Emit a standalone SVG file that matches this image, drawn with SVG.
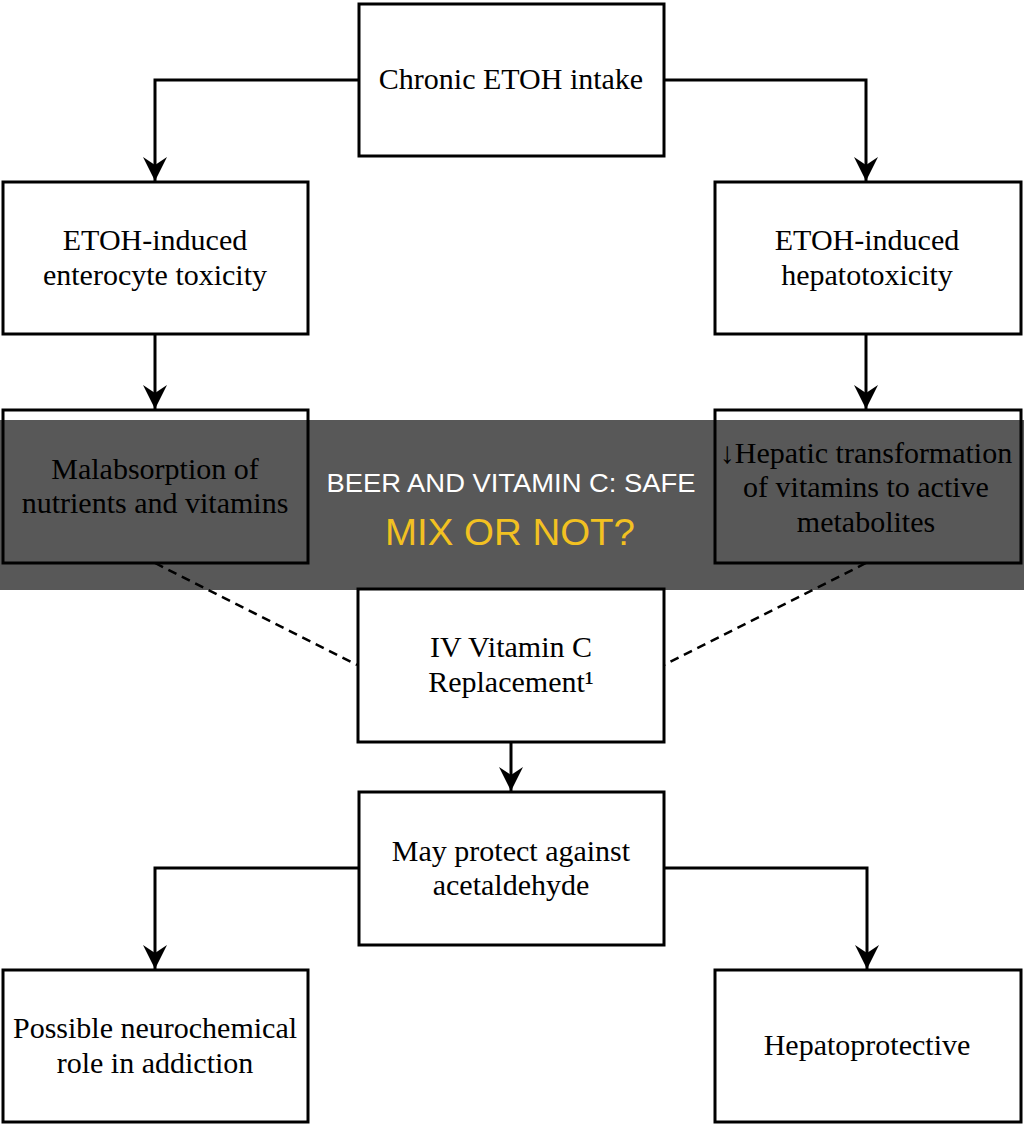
<svg xmlns="http://www.w3.org/2000/svg" width="1024" height="1125" viewBox="0 0 1024 1125">
<defs>
<style>
.box{fill:#fff;stroke:#000;stroke-width:3}
.t{font-family:"Liberation Serif","Times New Roman",serif;font-size:30px;fill:#000;text-anchor:middle}
.c{fill:none;stroke:#000;stroke-width:3}
.d{fill:none;stroke:#000;stroke-width:2.5;stroke-dasharray:9 6}
.h1{font-family:"Liberation Sans",Arial,sans-serif;font-size:26px;fill:#fff;text-anchor:middle}
.h2{font-family:"Liberation Sans",Arial,sans-serif;font-size:36px;fill:#f2c121;text-anchor:middle}
</style>
<marker id="ah" markerWidth="26" markerHeight="26" viewBox="-25 -13 26 26" refX="0" refY="0" orient="auto" markerUnits="userSpaceOnUse" overflow="visible">
<path d="M0,0 L-24,-12 L-16,0 L-24,12 Z" fill="#000"/>
</marker>
</defs>
<rect width="1024" height="1125" fill="#fff"/>
<g id="connectors">
<path class="c" d="M359,80 H155 V181" marker-end="url(#ah)"/>
<path class="c" d="M664,80 H866 V181" marker-end="url(#ah)"/>
<path class="c" d="M155,334 V409" marker-end="url(#ah)"/>
<path class="c" d="M866,334 V409" marker-end="url(#ah)"/>
<path class="d" d="M155,563 L357,665"/>
<path class="d" d="M866,563 L664,665"/>
<path class="c" d="M511,742 V791" marker-end="url(#ah)"/>
<path class="c" d="M359,868 H155 V969" marker-end="url(#ah)"/>
<path class="c" d="M664,868 H867 V969" marker-end="url(#ah)"/>
</g>
<g id="n1"><rect class="box" x="359" y="4" width="305" height="152"/><text class="t" x="511" y="89">Chronic ETOH intake</text></g>
<g id="n2"><rect class="box" x="3" y="182" width="305" height="152"/><text class="t" x="155" y="250">ETOH-induced</text><text class="t" x="155" y="285">enterocyte toxicity</text></g>
<g id="n3"><rect class="box" x="715" y="182" width="306" height="152"/><text class="t" x="867" y="250">ETOH-induced</text><text class="t" x="867" y="285">hepatotoxicity</text></g>
<g id="n4"><rect class="box" x="3" y="410" width="305" height="153"/><text class="t" x="155" y="479">Malabsorption of</text><text class="t" x="155" y="513">nutrients and vitamins</text></g>
<g id="n5"><rect class="box" x="715" y="410" width="306" height="153"/><text class="t" x="866" y="463">↓Hepatic transformation</text><text class="t" x="866" y="497">of vitamins to active</text><text class="t" x="866" y="532">metabolites</text></g>
<g id="n6"><rect class="box" x="358" y="589" width="306" height="153"/><text class="t" x="511" y="657">IV Vitamin C</text><text class="t" x="511" y="692">Replacement¹</text></g>
<g id="n7"><rect class="box" x="359" y="792" width="305" height="153"/><text class="t" x="511" y="861">May protect against</text><text class="t" x="511" y="895">acetaldehyde</text></g>
<g id="n8"><rect class="box" x="3" y="970" width="305" height="152"/><text class="t" x="155" y="1038">Possible neurochemical</text><text class="t" x="155" y="1073">role in addiction</text></g>
<g id="n9"><rect class="box" x="715" y="970" width="306" height="152"/><text class="t" x="867" y="1055">Hepatoprotective</text></g>
<g id="banner">
<rect x="0" y="420" width="1024" height="170" fill="#000" fill-opacity="0.655"/>
<text class="h1" x="511" y="492" textLength="369" lengthAdjust="spacingAndGlyphs">BEER AND VITAMIN C: SAFE</text>
<text class="h2" x="510" y="545" textLength="250" lengthAdjust="spacingAndGlyphs">MIX OR NOT?</text>
</g>
</svg>
